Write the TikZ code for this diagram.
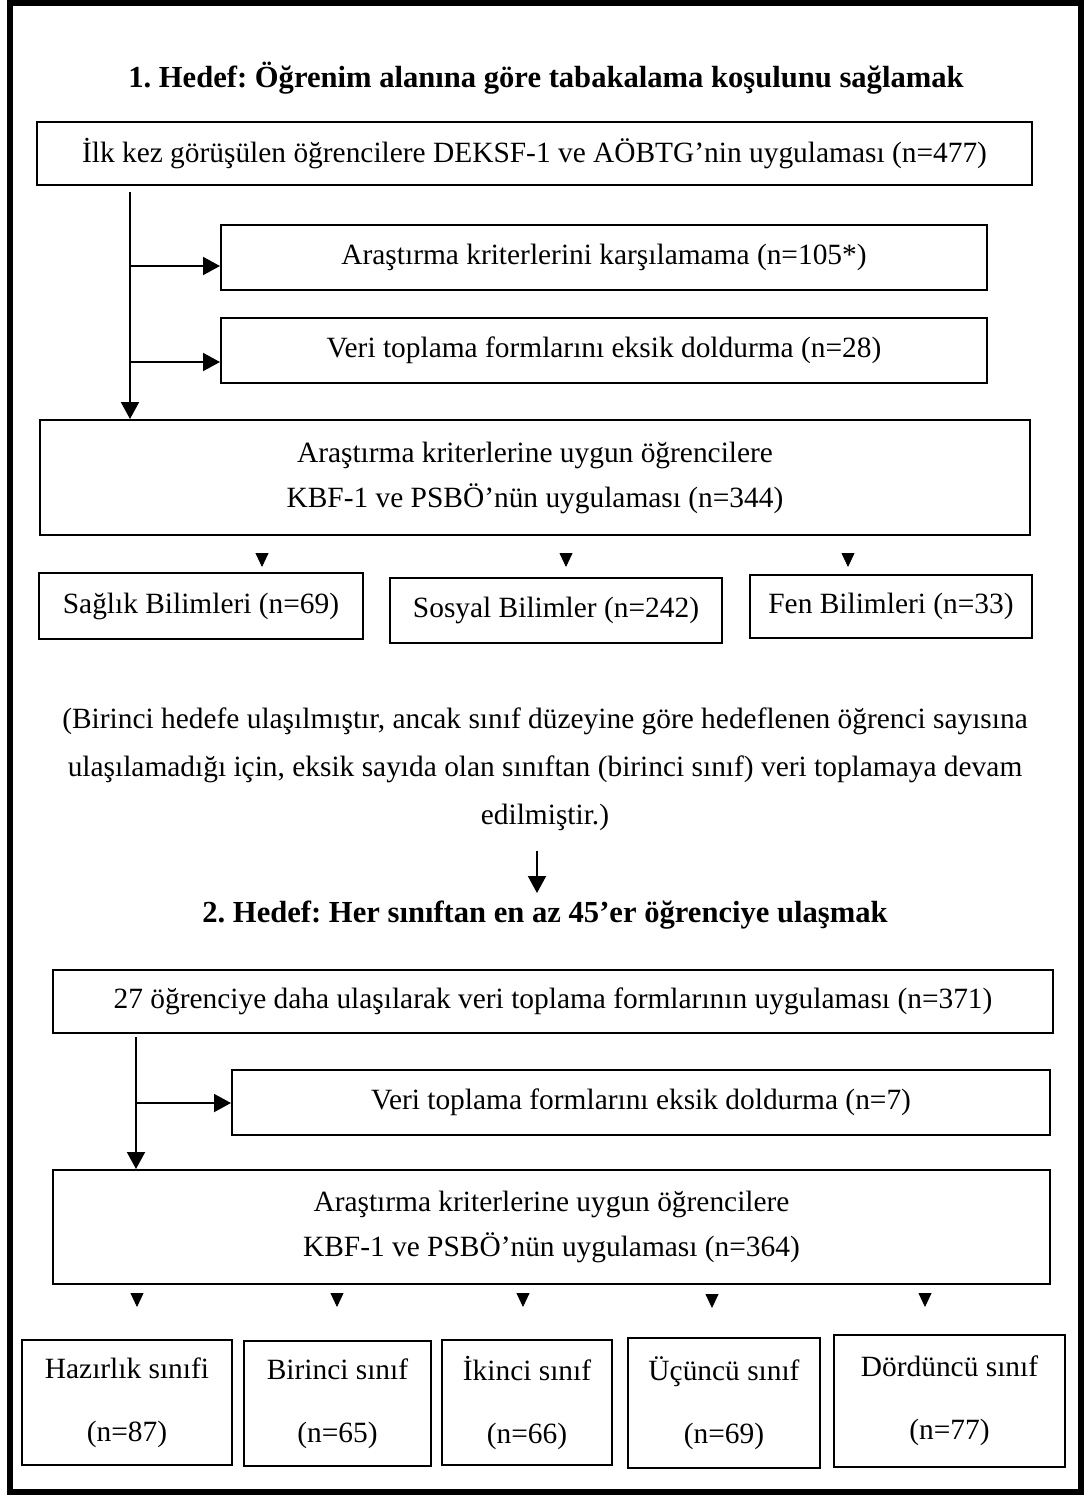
\documentclass[tikz,border=0pt]{standalone}
\usepackage{fontspec}
\setmainfont{Liberation Serif}
\usetikzlibrary{arrows.meta}
\frenchspacing
\begin{document}
\begin{tikzpicture}[x=0.5pt,y=-0.5pt,
  box/.style={draw, line width=1pt, rectangle, inner sep=0pt, align=center,
    font=\fontsize{14.7}{22.5}\selectfont},
  tallbox/.style={box, font=\fontsize{14.7}{31.5}\selectfont},
  heading/.style={inner sep=0pt, font=\fontsize{15.3}{17}\selectfont\bfseries},
  note/.style={inner sep=0pt, align=center, font=\fontsize{14.7}{24}\selectfont},
  arr/.style={line width=1pt, -{Triangle[length=8.5pt,width=9pt]}},
  headonly/.style={line width=0.4pt, -{Triangle[length=7pt,width=6.5pt]}}
]
\useasboundingbox (0,0) rectangle (1088,1495);
% outer frame
\draw[line width=3pt] (9.5,3) rectangle (1081,1492);

% ---- first goal ----
\node[heading] (t1) at (546,78) {1. Hedef: Öğrenim alanına göre tabakalama koşulunu sağlamak};
\node[box, minimum width=497.5pt, minimum height=31.5pt] (A) at (534.5,153.5)
  {İlk kez görüşülen öğrencilere DEKSF-1 ve AÖBTG’nin uygulaması (n=477)};
\node[box, minimum width=383pt, minimum height=32.5pt] (B) at (604,257.5)
  {Araştırma kriterlerini karşılamama (n=105*)};
\node[box, minimum width=383pt, minimum height=32.5pt] (C) at (604,350.5)
  {Veri toplama formlarını eksik doldurma (n=28)};
\node[box, minimum width=495pt, minimum height=57.5pt] (D) at (535,477.5)
  {Araştırma kriterlerine uygun öğrencilere\\KBF-1 ve PSBÖ’nün uygulaması (n=344)};

\coordinate (s1) at (130,192);
\coordinate (b1) at (130,266);
\coordinate (c1) at (130,362);
\draw[arr] (s1) -- (s1 |- D.north);
\draw[arr] (b1) -- (b1 -| B.west);
\draw[arr] (c1) -- (c1 -| C.west);

\node[box, minimum width=162pt, minimum height=33pt] (E1) at (201,606)
  {Sağlık Bilimleri (n=69)};
\node[box, minimum width=166pt, minimum height=32.5pt] (E2) at (556,610.5)
  {Sosyal Bilimler (n=242)};
\node[box, minimum width=141pt, minimum height=31.5pt] (E3) at (891,606.5)
  {Fen Bilimleri (n=33)};

\coordinate (e1) at (262,553);
\coordinate (e2) at (566,553);
\coordinate (e3) at (848,553);
\draw[headonly] (e1) -- ++(0,14);
\draw[headonly] (e2) -- ++(0,14);
\draw[headonly] (e3) -- ++(0,14);

% ---- transition note ----
\node[note] (p) at (545,769)
  {(Birinci hedefe ulaşılmıştır, ancak sınıf düzeyine göre hedeflenen öğrenci sayısına\\
   ulaşılamadığı için, eksik sayıda olan sınıftan (birinci sınıf) veri toplamaya devam\\
   edilmiştir.)};
\node[heading] (t2) at (545,915) {2. Hedef: Her sınıftan en az 45’er öğrenciye ulaşmak};
\coordinate (p1) at (537,851);
\coordinate (p2) at (537,893);
\draw[arr] (p1) -- (p2);

% ---- second goal ----
\node[box, minimum width=500pt, minimum height=31.5pt] (F) at (553,1001)
  {27 öğrenciye daha ulaşılarak veri toplama formlarının uygulaması (n=371)};
\node[box, minimum width=409pt, minimum height=32.5pt] (G) at (641,1102.5)
  {Veri toplama formlarını eksik doldurma (n=7)};
\node[box, minimum width=498.5pt, minimum height=57pt] (H) at (551.5,1227)
  {Araştırma kriterlerine uygun öğrencilere\\KBF-1 ve PSBÖ’nün uygulaması (n=364)};

\coordinate (s2) at (136,1037);
\coordinate (g1) at (136,1103);
\draw[arr] (s2) -- (s2 |- H.north);
\draw[arr] (g1) -- (g1 -| G.west);

\coordinate (k1) at (137,1293);
\coordinate (k2) at (337,1293);
\coordinate (k3) at (523,1293);
\coordinate (k4) at (712,1294);
\coordinate (k5) at (925,1293);
\foreach \c in {k1,k2,k3,k4,k5} \draw[headonly] (\c) -- ++(0,14);

\node[tallbox, minimum width=105pt, minimum height=62.5pt] (K1) at (127,1402.5)
  {Hazırlık sınıfi\\(n=87)};
\node[tallbox, minimum width=93.5pt, minimum height=62.5pt] (K2) at (337.5,1403.5)
  {Birinci sınıf\\(n=65)};
\node[tallbox, minimum width=85pt, minimum height=62.5pt] (K3) at (527,1402.5)
  {İkinci sınıf\\(n=66)};
\node[tallbox, minimum width=96pt, minimum height=65pt] (K4) at (724,1403)
  {Üçüncü sınıf\\(n=69)};
\node[tallbox, minimum width=115.5pt, minimum height=66pt] (K5) at (949.5,1401)
  {Dördüncü sınıf\\(n=77)};
\end{tikzpicture}
\end{document}
